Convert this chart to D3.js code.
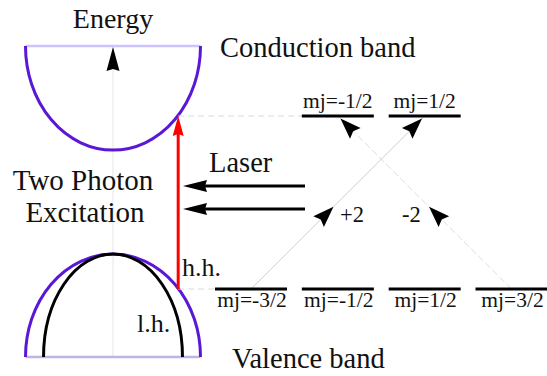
<!DOCTYPE html>
<html>
<head>
<meta charset="utf-8">
<script src="https://cdn.jsdelivr.net/npm/d3@7"></script>
<style>
  html, body { margin: 0; padding: 0; background: #fff; }
  svg { display: block; }
</style>
</head>
<body>
<svg id="chart" width="547" height="376"></svg>
<script>
// Spin sublevels (mj) of the valence (lower) and conduction (upper) band edges
const lowerStates = ["-3/2", "-1/2", "1/2", "3/2"];
const lowerMj = [-1.5, -0.5, 0.5, 1.5];
const upperStates = ["-1/2", "1/2"];
const upperMj = [-0.5, 0.5];

// Two-photon transitions: starting mj, final mj, change in angular momentum
const transFrom = [-1.5, 1.5];
const transTo = [0.5, -0.5];
const transLabels = ["+2", "-2"];

// Energies (arbitrary units): band-edge levels and band extents
const levelEnergy = [0, 1];            // lower levels, upper levels
const conductionBand = [0.803, 1.405]; // band minimum, top of drawn band
const valenceBand = [-0.393, 0.202];   // bottom of drawn band, band maximum
const lightHoleWidth = 0.794;          // light-hole band half-width relative to heavy-hole
const pumpK = 0.745;                   // wave vector of the vertical transition
const laserBeams = [0, 1];

const FONT = "'Liberation Serif', 'Times New Roman', Tinos, 'DejaVu Serif', 'Nimbus Roman', FreeSerif, serif";
const svg = d3.select("#chart")
  .attr("font-family", FONT)
  .style("font-family", FONT);
const purple = "#5a18d6";
const lavender = "#cdc4ff";

// Scales
const mjX = d3.scaleLinear().domain([-1.5, 1.5]).range([251, 511.5]);
const eY = d3.scaleLinear().domain([0, 1]).range([289, 116]);
const kX = d3.scaleLinear().domain([-1, 1]).range([25.5, 200.5]);
const laserY = d3.scalePoint().domain(laserBeams).range([186, 209]);

function arrowHead(g, x, y, angle, len, wid, notch, color) {
  const p = [[0, 0], [-len, wid / 2], [-len + notch, 0], [-len, -wid / 2]];
  g.append("path")
    .attr("d", "M" + p.map(d => d.join(",")).join("L") + "Z")
    .attr("transform", `translate(${x},${y}) rotate(${angle})`)
    .attr("fill", color);
}

function label(x, y, size, str, anchor) {
  return svg.append("text")
    .attr("x", x).attr("y", y)
    .attr("font-size", size)
    .attr("font-family", FONT)
    .attr("fill", "#111")
    .attr("text-anchor", anchor || "start")
    .text(str);
}

// Energy axis
const axisG = svg.append("g");
axisG.append("line")
  .attr("x1", kX(0)).attr("x2", kX(0))
  .attr("y1", eY(conductionBand[1])).attr("y2", eY(valenceBand[0]))
  .attr("stroke", "#e6e6e6").attr("stroke-width", 1);
arrowHead(axisG, kX(0), eY(conductionBand[1]) + 1, -90, 24, 13, 2, "#000");

// Band outlines
const rx = (kX(1) - kX(-1)) / 2;
const cTop = eY(conductionBand[1]), cMin = eY(conductionBand[0]);
const vBot = eY(valenceBand[0]), vMax = eY(valenceBand[1]);

svg.append("line").attr("x1", kX(-1)).attr("x2", kX(1))
  .attr("y1", cTop).attr("y2", cTop)
  .attr("stroke", lavender).attr("stroke-width", 2.5);
svg.append("line").attr("x1", kX(-1)).attr("x2", kX(1))
  .attr("y1", vBot).attr("y2", vBot)
  .attr("stroke", "#bdb5e6").attr("stroke-width", 2.5);

svg.append("path")
  .attr("d", `M${kX(-1)},${cTop} A${rx},${cMin - cTop} 0 0 0 ${kX(1)},${cTop}`)
  .attr("fill", "none").attr("stroke", purple).attr("stroke-width", 3);

svg.append("path")
  .attr("d", `M${kX(-1)},${vBot} A${rx},${vBot - vMax} 0 0 1 ${kX(1)},${vBot}`)
  .attr("fill", "none").attr("stroke", purple).attr("stroke-width", 3);

svg.append("path")
  .attr("d", `M${kX(-lightHoleWidth)},${vBot} A${rx * lightHoleWidth},${vBot - vMax} 0 0 1 ${kX(lightHoleWidth)},${vBot}`)
  .attr("fill", "none").attr("stroke", "#000").attr("stroke-width", 3);

// Dashed guides from the transition to the level diagram
const guides = svg.append("g").attr("stroke", "#d9d9d9").attr("stroke-width", 1)
  .attr("stroke-dasharray", "6,4");
guides.append("line").attr("x1", kX(pumpK)).attr("x2", mjX(upperMj[0]) - 36)
  .attr("y1", eY(levelEnergy[1])).attr("y2", eY(levelEnergy[1]));
guides.append("line").attr("x1", kX(pumpK)).attr("x2", mjX(lowerMj[0]) - 36)
  .attr("y1", eY(levelEnergy[0])).attr("y2", eY(levelEnergy[0]));

// Vertical (red) transition
const redG = svg.append("g");
redG.append("line")
  .attr("x1", kX(pumpK)).attr("x2", kX(pumpK))
  .attr("y1", eY(levelEnergy[0])).attr("y2", eY(levelEnergy[1]) + 12)
  .attr("stroke", "#ff0000").attr("stroke-width", 3);
arrowHead(redG, kX(pumpK), eY(levelEnergy[1]), -90, 20, 11, 2, "#ff0000");

// Laser beams
const laserG = svg.append("g");
laserBeams.forEach(b => {
  laserG.append("line")
    .attr("x1", 305).attr("x2", 196)
    .attr("y1", laserY(b)).attr("y2", laserY(b))
    .attr("stroke", "#000").attr("stroke-width", 3);
  arrowHead(laserG, 183, laserY(b), 180, 24, 12, 2, "#000");
});

// Transition lines between sublevels
const transG = svg.append("g");
transFrom.forEach((from, i) => {
  const x0 = mjX(from), y0 = eY(levelEnergy[0]);
  const x1 = mjX(transTo[i]), y1 = eY(levelEnergy[1]);
  transG.append("line")
    .attr("x1", x0).attr("y1", y0).attr("x2", x1).attr("y2", y1)
    .attr("stroke", i === 0 ? "#cfcfcf" : "#dedede").attr("stroke-width", 1)
    .attr("stroke-dasharray", i === 0 ? null : "7,3");
  const ang = Math.atan2(y1 - y0, x1 - x0) * 180 / Math.PI;
  const t1 = 0.475, t2 = 0.985;
  arrowHead(transG, x0 + (x1 - x0) * t1, y0 + (y1 - y0) * t1, ang, 21, 15, 3, "#000");
  arrowHead(transG, x0 + (x1 - x0) * t2, y0 + (y1 - y0) * t2, ang, 21, 15, 3, "#000");
});

// Level bars and labels
const half = 36;
svg.append("g").selectAll("line").data(lowerMj).join("line")
  .attr("x1", d => mjX(d) - half).attr("x2", d => mjX(d) + half)
  .attr("y1", eY(levelEnergy[0])).attr("y2", eY(levelEnergy[0]))
  .attr("stroke", "#000").attr("stroke-width", 3);
svg.append("g").selectAll("line").data(upperMj).join("line")
  .attr("x1", d => mjX(d) - half).attr("x2", d => mjX(d) + half)
  .attr("y1", eY(levelEnergy[1])).attr("y2", eY(levelEnergy[1]))
  .attr("stroke", "#000").attr("stroke-width", 3);

lowerStates.forEach((s, i) => label(mjX(lowerMj[i]) + 1, eY(levelEnergy[0]) + 18, 21.5, "mj=" + s, "middle"));
upperStates.forEach((s, i) => label(mjX(upperMj[i]), eY(levelEnergy[1]) - 8, 21.5, "mj=" + s, "middle"));

// Transition labels
label(340, 222, 22.5, transLabels[0]);
label(402, 222, 22.5, transLabels[1]);

// Titles and annotations
label(kX(0), 28, 28, "Energy", "middle");
label(220, 57, 28.5, "Conduction band");
label(232, 368, 28.5, "Valence band");
label(83, 190, 29, "Two Photon", "middle");
label(85, 222, 29, "Excitation", "middle");
label(209, 172, 28.5, "Laser");
label(182, 276, 26, "h.h.");
label(137, 332, 26, "l.h.");
</script>
</body>
</html>
